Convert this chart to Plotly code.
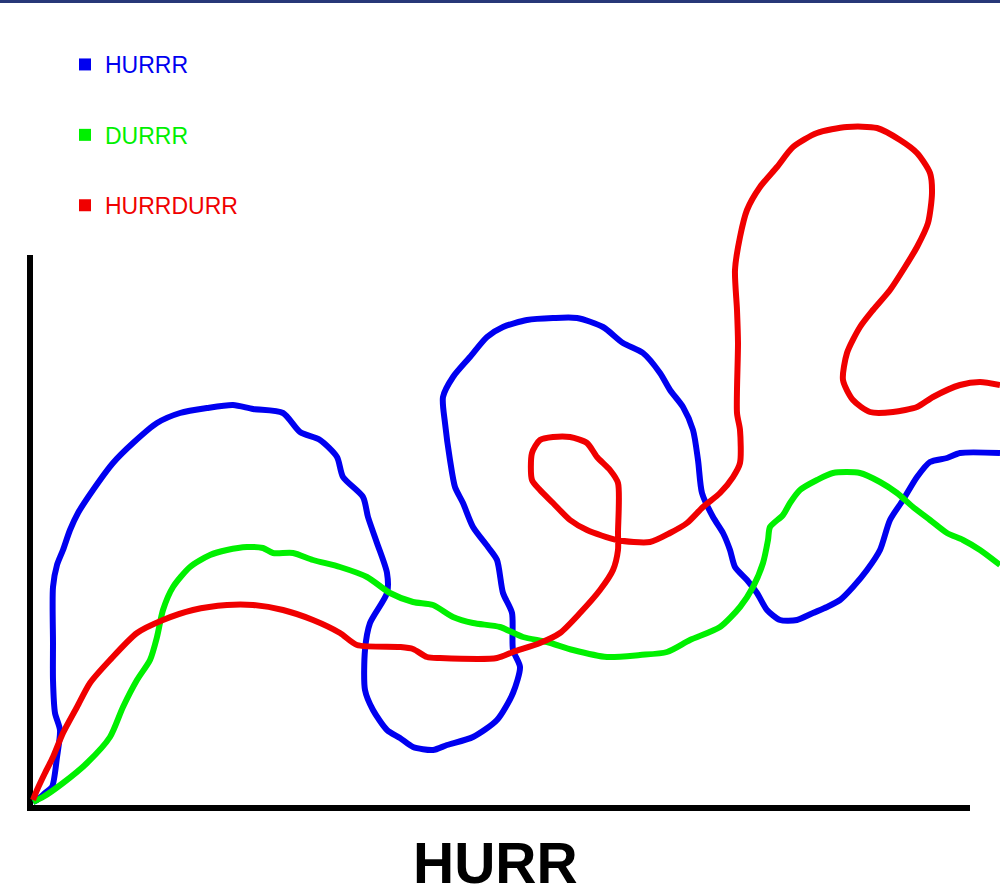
import plotly.graph_objects as go

# Series values (x from the vertical axis, y up from the horizontal axis)
hurrr_x = [3, 7, 15, 22, 27, 30, 25, 23, 23, 23, 27, 33, 40, 48, 63, 83, 103, 127, 150, 177, 203, 223, 253, 270,
           290, 307, 313, 333, 338, 347, 357, 357, 340, 335, 335, 343, 357, 370, 383, 403, 417, 443, 467, 483,
           490, 483, 482, 473, 467, 458, 443, 433, 425, 420, 415, 413, 423, 440, 457, 473, 497, 523, 547, 573,
           593, 613, 630, 640, 653, 663, 668, 672, 683, 693, 700, 705, 717, 727, 737, 750, 767, 783, 797, 810,
           823, 837, 850, 860, 873, 887, 900, 917, 930, 970]
hurrr_y = [6, 8, 15, 21, 51, 78, 95, 128, 165, 221, 243, 258, 278, 295, 318, 345, 365, 385, 395, 400, 403, 399, 395, 376,
           368, 351, 331, 311, 291, 265, 235, 215, 185, 158, 118, 98, 78, 70, 61, 58, 63, 71, 88, 115,
           141, 158, 195, 215, 248, 261, 281, 305, 321, 348, 385, 411, 431, 451, 471, 481, 488, 490, 490, 481,
           465, 455, 435, 418, 401, 378, 348, 315, 291, 275, 258, 241, 228, 215, 198, 188, 188, 195, 201, 208,
           221, 238, 258, 288, 308, 331, 346, 350, 355, 355]

durrr_x = [3, 13, 33, 57, 80, 93, 107, 120, 127, 133, 143, 160, 180, 197, 217, 233, 243, 263, 283, 310, 337, 360,
           383, 403, 423, 443, 470, 493, 517, 543, 577, 610, 637, 660, 690, 710, 723, 733, 738, 740, 753, 760,
           770, 787, 803, 830, 850, 867, 883, 900, 917, 933, 950, 970]
durrr_y = [6, 11, 25, 45, 71, 101, 128, 148, 171, 198, 221, 241, 253, 258, 261, 260, 255, 255, 248, 241, 231, 215,
           206, 203, 191, 185, 181, 171, 166, 158, 151, 153, 156, 168, 181, 201, 221, 245, 268, 281, 293, 305,
           318, 328, 335, 335, 326, 315, 301, 288, 275, 268, 258, 243]

hurrdurr_x = [3, 7, 15, 23, 33, 47, 60, 80, 107, 133, 163, 197, 223, 253, 283, 310, 327, 370, 383, 397, 410, 467,
              483, 510, 530, 550, 570, 583, 588, 588, 588, 580, 567, 557, 540, 523, 510, 502, 502, 510, 523, 540,
              557, 587, 620, 640, 657, 673, 690, 703, 710, 710, 707, 708, 707, 705, 710, 717, 730, 747, 763, 787,
              817, 847, 870, 887, 900, 902, 898, 887, 875, 860, 843, 830, 817, 813, 823, 840, 863, 887, 903, 930,
              950, 970]
hurrdurr_y = [8, 18, 35, 51, 75, 101, 125, 148, 175, 188, 198, 203, 203, 198, 188, 175, 163, 161, 159, 151, 150, 150,
              156, 165, 175, 195, 218, 238, 258, 275, 325, 338, 351, 365, 371, 371, 368, 355, 328, 318, 305, 288,
              278, 268, 266, 275, 285, 301, 315, 331, 345, 378, 395, 465, 498, 538, 571, 598, 621, 641, 661, 675,
              681, 680, 668, 655, 635, 615, 585, 561, 541, 518, 498, 481, 455, 428, 408, 396, 396, 401, 411, 423,
              426, 423]

series_names = ["HURRR", "DURRR", "HURRDURR"]
series_colors = ["#0000F0", "#00F000", "#F00000"]
series_x = [hurrr_x, durrr_x, hurrdurr_x]
series_y = [hurrr_y, durrr_y, hurrdurr_y]
x_title = "HURR"

fig = go.Figure()
for name, color, xs, ys in zip(series_names, series_colors, series_x, series_y):
    fig.add_trace(go.Scatter(x=xs, y=ys, mode="lines",
                             line=dict(color=color, width=6, shape="spline", smoothing=0.7),
                             showlegend=False, legendgroup=name, hoverinfo="skip"))
for name, color in zip(series_names, series_colors):
    fig.add_trace(go.Scatter(x=[None], y=[None], mode="markers",
                             marker=dict(symbol="square", size=12, color=color),
                             name=f'<span style="color:{color}">{name}</span>',
                             legendgroup=name, showlegend=True))

AX = "black"
fig.add_shape(type="line", x0=0, y0=0, x1=0, y1=553, line=dict(color=AX, width=6), layer="below")
fig.add_shape(type="line", x0=-3, y0=0, x1=940, y1=0, line=dict(color=AX, width=6), layer="below")
fig.add_shape(type="rect", xref="paper", yref="paper", x0=0, x1=1, y0=1 - 3 / 894, y1=1,
              fillcolor="#283878", line=dict(width=0))

fig.add_annotation(x=465, y=-55, text=f"<b>{x_title}</b>", showarrow=False,
                   font=dict(family="Liberation Sans, Arial", size=57, color="black"),
                   xanchor="center", yanchor="middle")

fig.update_layout(
    width=1000, height=894, autosize=False,
    margin=dict(l=0, r=0, t=0, b=0, pad=0),
    paper_bgcolor="white", plot_bgcolor="white",
    xaxis=dict(range=[-30, 970], visible=False, fixedrange=True),
    yaxis=dict(range=[-86, 808], visible=False, fixedrange=True),
    legend=dict(x=0.065, y=1 - 43 / 894, xanchor="left", yanchor="top",
                font=dict(family="Liberation Sans, Arial", size=23),
                traceorder="grouped", tracegroupgap=37.5, bgcolor="rgba(0,0,0,0)"),
    showlegend=True,
)

fig.write_html("out.html", config={"displayModeBar": False},
               post_script="document.body.style.margin='0';")
